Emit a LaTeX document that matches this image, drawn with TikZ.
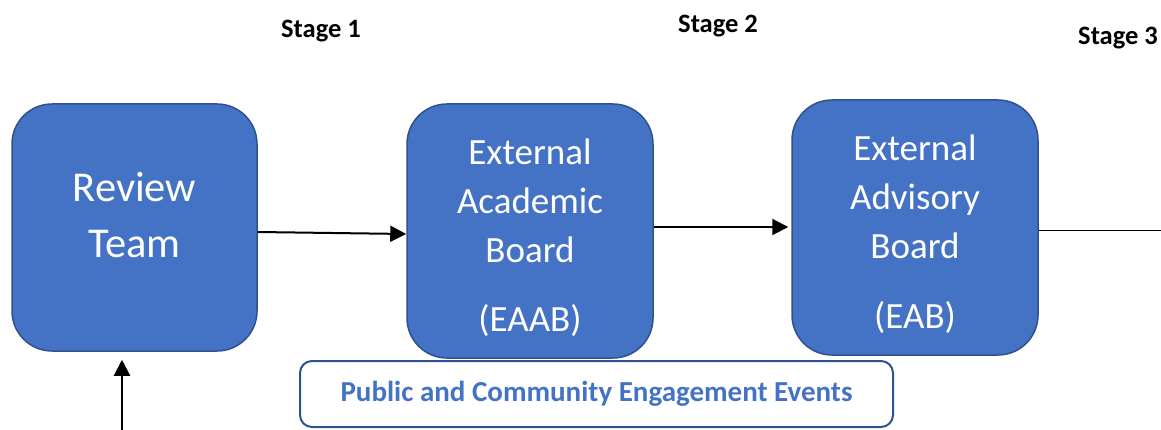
\documentclass[tikz,border=0pt]{standalone}
\usepackage{fontspec}
\setmainfont{Carlito}
\usetikzlibrary{arrows.meta, positioning}

\definecolor{boxblue}{HTML}{4472C4}
\definecolor{edgeblue}{HTML}{2F528F}

\begin{document}
\begin{tikzpicture}[x=1pt, y=-1pt,
    board/.style={draw=edgeblue, line width=1.5pt, fill=boxblue, rounded corners=40pt,
      text=white, align=center, font=\fontsize{37}{49}\selectfont, minimum width=246pt},
    stage/.style={font=\fontsize{26.5}{30}\selectfont\bfseries, anchor=base},
    flow/.style={-{Triangle[length=16pt, width=16pt]}, line width=2pt}]
    \useasboundingbox (0,0) rectangle (1161,430);

    % Stage headings
    \node[stage] (stage1) at (321,38) {Stage 1};
    \node[stage] (stage2) at (718,33) {Stage 2};
    \node[stage] (stage3) at (1118,45) {Stage 3};

    % Review team
    \node[board, font=\fontsize{42.5}{56}\selectfont, minimum width=245pt, minimum height=247pt,
      text height=71pt, text depth=10pt] (review) at (134.5,227.5) {Review\\Team};

    % Academic board
    \node[board, minimum height=254pt, text height=205pt, text depth=5pt]
      (eaab) at (530,231) {External\\Academic\\Board\\[20pt](EAAB)};

    % Advisory board
    \node[board, minimum height=255pt, text height=206pt, text depth=5pt]
      (eab) at (915,227.5) {External\\Advisory\\Board\\[21pt](EAB)};

    % Engagement events
    \node[draw=edgeblue, line width=2pt, rounded corners=12pt, minimum width=593pt, minimum height=66pt,
      text=boxblue, font=\fontsize{29}{34}\selectfont\bfseries]
      (events) at (596.5,394) {Public and Community Engagement Events};

    % Flow between stages
    \draw[flow] ([yshift=-4.5pt]review.east) -- ([yshift=-3pt]eaab.west);
    \draw[flow, shorten >=3pt] ([yshift=4pt]eaab.east) -- ([yshift=0.5pt]eab.west);
    \coordinate (out) at (1161,231);
    \draw[line width=1pt] ([yshift=-3.5pt]eab.east) -- (out);

    % Input from below
    \coordinate (feed) at (122,430);
    \draw[flow, shorten >=8pt] (feed) -- (review.south -| feed);
\end{tikzpicture}
\end{document}
